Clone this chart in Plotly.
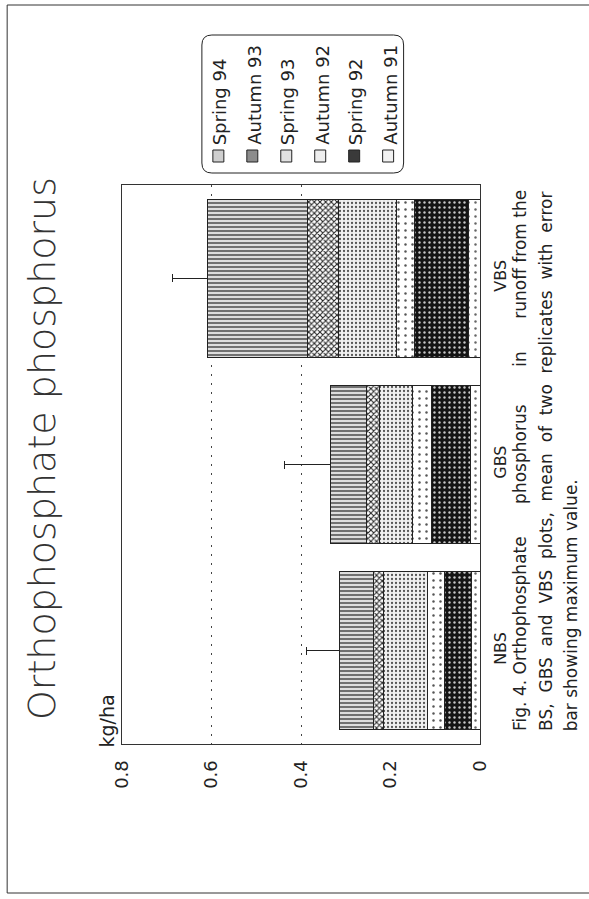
import plotly.graph_objects as go

# ---------------- data ----------------
categories = ["NBS", "GBS", "VBS"]
autumn91 = [0.020, 0.022, 0.026]
spring92 = [0.059, 0.086, 0.121]
autumn92 = [0.038, 0.042, 0.040]
spring93 = [0.098, 0.075, 0.130]
autumn93 = [0.022, 0.029, 0.068]
spring94 = [0.077, 0.080, 0.223]
max_value = [0.387, 0.438, 0.688]
value_ticks = [0, 0.2, 0.4, 0.6, 0.8]
value_tick_labels = ["0", "0.2", "0.4", "0.6", "0.8"]
grid_values = [0.4, 0.6]
legend_order = ["Spring 94", "Autumn 93", "Spring 93", "Autumn 92", "Spring 92", "Autumn 91"]

W, H = 589, 899
L, R, T, B = 122, 480.5, 185, 744
FONT = "DejaVu Sans"
INK = "#222222"


def px(x):
    return (x - L) / (R - L)


def py(y):
    return (B - y) / (B - T)


styles = {
    "Autumn 91": dict(shape=".", fgcolor="#666666", bgcolor="#ffffff", size=7, solidity=0.1),
    "Spring 92": dict(shape=".", fgcolor="#c8c8c8", bgcolor="#141414", size=5, solidity=0.18),
    "Autumn 92": dict(shape=".", fgcolor="#555555", bgcolor="#ffffff", size=7, solidity=0.1),
    "Spring 93": dict(shape=".", fgcolor="#555555", bgcolor="#f0f0f0", size=4, solidity=0.25),
    "Autumn 93": dict(shape="x", fgcolor="#222222", bgcolor="#ffffff", size=4, solidity=0.45),
    "Spring 94": dict(shape="-", fgcolor="#555555", bgcolor="#dedede", size=4, solidity=0.4),
}
swatch_fill = {
    "Spring 94": "#cfcfcf", "Autumn 93": "#8c8c8c", "Spring 93": "#e2e2e2",
    "Autumn 92": "#eeeeee", "Spring 92": "#3a3a3a", "Autumn 91": "#f2f2f2",
}

series = [
    ("Autumn 91", autumn91), ("Spring 92", spring92), ("Autumn 92", autumn92),
    ("Spring 93", spring93), ("Autumn 93", autumn93), ("Spring 94", spring94),
]
totals = [sum(v) for v in zip(*[s[1] for s in series])]
err_plus = [m - t for m, t in zip(max_value, totals)]

fig = go.Figure()
for name, vals in series:
    st = styles[name]
    kw = {}
    if name == "Spring 94":
        kw["error_x"] = dict(type="data", symmetric=False, array=err_plus,
                             arrayminus=[0] * len(err_plus), color=INK,
                             thickness=1, width=4)
    fig.add_trace(go.Bar(
        y=categories, x=vals, name=name, orientation="h",
        marker=dict(color=st["bgcolor"], line=dict(color=INK, width=1),
                    pattern=dict(shape=st["shape"], fgcolor=st["fgcolor"],
                                 bgcolor=st["bgcolor"], size=st["size"],
                                 solidity=st["solidity"], fillmode="replace")),
        **kw))

annotations = []
shapes = []

# title
annotations.append(dict(text="Orthophosphate phosphorus", x=px(42), y=py(449),
                        xref="paper", yref="paper", showarrow=False, textangle=-90,
                        xanchor="center", yanchor="middle",
                        font=dict(family=FONT, size=38, color="#333333", weight=200)))
# unit label
annotations.append(dict(text="kg/ha", x=px(106), y=py(750), xref="paper", yref="paper",
                        showarrow=False, textangle=-90, xanchor="center", yanchor="bottom",
                        font=dict(family=FONT, size=19, color=INK)))

# legend
lx0, lx1, ly0, ly1, r = 202, 404, 35, 173, 10
path = (f"M {px(lx0 + r)},{py(ly0)} L {px(lx1 - r)},{py(ly0)} "
        f"Q {px(lx1)},{py(ly0)} {px(lx1)},{py(ly0 + r)} L {px(lx1)},{py(ly1 - r)} "
        f"Q {px(lx1)},{py(ly1)} {px(lx1 - r)},{py(ly1)} L {px(lx0 + r)},{py(ly1)} "
        f"Q {px(lx0)},{py(ly1)} {px(lx0)},{py(ly1 - r)} L {px(lx0)},{py(ly0 + r)} "
        f"Q {px(lx0)},{py(ly0)} {px(lx0 + r)},{py(ly0)} Z")
shapes.append(dict(type="path", path=path, xref="paper", yref="paper",
                   line=dict(color=INK, width=1), fillcolor="rgba(0,0,0,0)"))
for i, name in enumerate(legend_order):
    c = 220 + 34 * i
    shapes.append(dict(type="rect", xref="paper", yref="paper",
                       x0=px(c - 7), x1=px(c + 4), y0=py(162), y1=py(150),
                       line=dict(color=INK, width=1), fillcolor=swatch_fill[name]))
    annotations.append(dict(text=name, x=px(c), y=py(147), xref="paper", yref="paper",
                            showarrow=False, textangle=-90, xanchor="center",
                            yanchor="bottom", font=dict(family=FONT, size=18, color=INK)))

# caption
nb = "&nbsp;"
cap_lines = [
    f"Fig. 4. Orthophosphate {nb*5}phosphorus {nb*6}in {nb*5}runoff from the",
    f"BS, {nb}GBS {nb}and {nb}VBS {nb}plots, {nb}mean {nb}of {nb}two {nb}replicates {nb}with {nb}error",
    "bar showing maximum value.",
]
for i, line in enumerate(cap_lines):
    annotations.append(dict(text=line, x=px(520 + 26 * i), y=py(733), xref="paper",
                            yref="paper", showarrow=False, textangle=-90,
                            xanchor="center", yanchor="bottom",
                            font=dict(family=FONT, size=17, color=INK)))

# outer page border
shapes.append(dict(type="rect", xref="paper", yref="paper",
                   x0=px(7), x1=px(640), y0=py(893), y1=py(5),
                   line=dict(color="#333333", width=1), fillcolor="rgba(0,0,0,0)"))

fig.update_layout(
    width=W, height=H,
    margin=dict(l=L, r=W - R, t=T, b=H - B, pad=0),
    barmode="stack", bargap=0.152,
    showlegend=False,
    paper_bgcolor="white", plot_bgcolor="white",
    annotations=annotations, shapes=shapes,
    xaxis=dict(range=[0.8, 0], tickmode="array", tickvals=value_ticks,
               ticktext=value_tick_labels, tickangle=-90, ticks="",
               ticklabelstandoff=8, showgrid=False, zeroline=False,
               showline=True, mirror=True, linecolor="#333333", linewidth=1,
               tickfont=dict(family=FONT, size=18, color=INK),
               minor=dict(tickmode="array", tickvals=grid_values, showgrid=True,
                          griddash="2px,7px", gridcolor="#444444", gridwidth=1, ticks="")),
    yaxis=dict(categoryorder="array", categoryarray=categories, side="right",
               tickangle=-90, ticks="", ticklabelstandoff=6, showgrid=False,
               zeroline=False, showline=True, mirror=True, linecolor="#333333",
               linewidth=1, tickfont=dict(family=FONT, size=16, color=INK)),
)

fig.write_html("out.html", config={"displayModeBar": False},
               post_script="document.body.style.margin='0';")
